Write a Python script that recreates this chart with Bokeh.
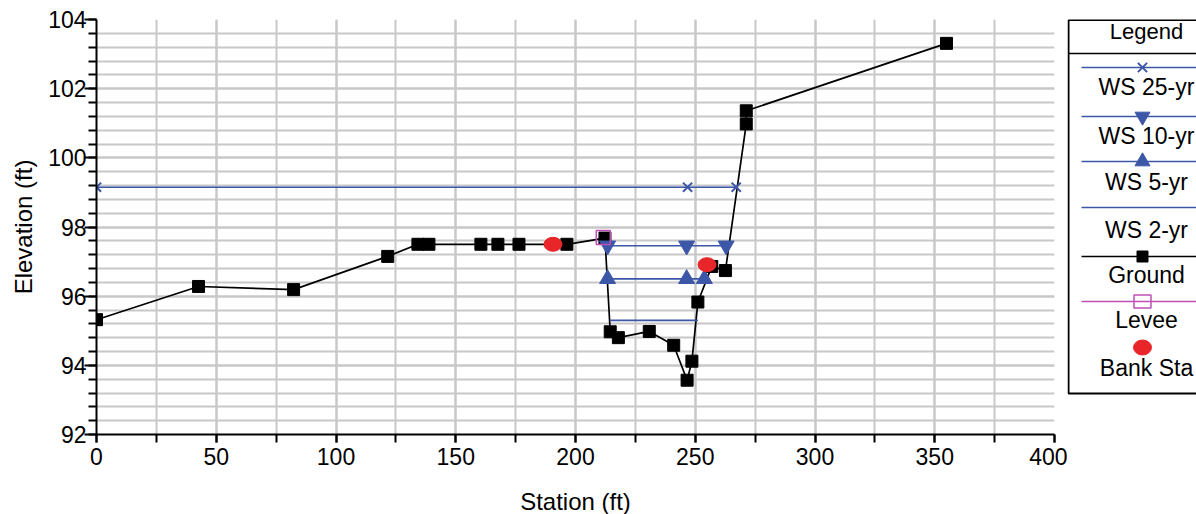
from bokeh.plotting import figure
from bokeh.layouts import row, column
from bokeh.models import Range1d, SingleIntervalTicker
from bokeh.core.properties import value
from bokeh.embed import file_html
from bokeh.resources import INLINE

# ---- data ----
ground_x = [0, 42.6, 82.3, 121.6, 134.2, 138.8, 160.5, 167.6, 176.4, 196.4, 212.3,
            214.5, 217.9, 230.8, 241.0, 246.6, 248.6, 251.1, 256.9, 262.6, 271.3, 271.3, 354.9]
ground_y = [95.32, 96.28, 96.19, 97.15, 97.50, 97.50, 97.50, 97.50, 97.50, 97.50, 97.68,
            94.97, 94.80, 94.98, 94.58, 93.57, 94.12, 95.83, 96.86, 96.74, 100.98, 101.36, 103.31]

ws25_x = [0, 246.8, 267.1]
ws25_y = [99.15, 99.15, 99.15]
ws10_x = [213.4, 246.4, 262.9]
ws10_y = [97.46, 97.46, 97.46]
ws5_x = [213.4, 246.4, 253.8]
ws5_y = [96.50, 96.50, 96.50]
ws2_x = [214.5, 251.1]
ws2_y = [95.30, 95.30]

levee_x = [211.6]
levee_y = [97.70]
bank_x = [190.6, 254.9]
bank_y = [97.50, 96.91]

legend_labels = ["WS 25-yr", "WS 10-yr", "WS 5-yr", "WS 2-yr", "Ground", "Levee", "Bank Sta"]
x_title = "Station (ft)"
y_title = "Elevation (ft)"

BLUE = "#3d57a8"
RED = "#e8262a"
PINK = "#c04fb4"
GRID = "#c8c8c8"
FONT = "Liberation Sans"

TOP, BOTTOM = 19, 50
MAIN_H = 484
TITLE_H = 514 - MAIN_H
X0, X1, Y0, Y1 = 0, 400, 92, 104

# ---- main plot ----
p = figure(width=1067, height=MAIN_H, x_range=Range1d(X0, X1), y_range=Range1d(Y0, Y1),
           output_backend="svg", toolbar_location=None,
           min_border_left=96, min_border_right=13, min_border_top=TOP, min_border_bottom=BOTTOM)
p.outline_line_color = None
p.background_fill_color = "white"

p.xaxis.ticker = SingleIntervalTicker(interval=50, num_minor_ticks=2)
p.yaxis.ticker = SingleIntervalTicker(interval=2, num_minor_ticks=5)
for ax in (p.xaxis[0], p.yaxis[0]):
    ax.axis_line_color = "black"
    ax.axis_line_width = 2
    ax.major_tick_line_color = "black"
    ax.minor_tick_line_color = "black"
    ax.major_tick_line_width = 2
    ax.minor_tick_line_width = 2
    ax.major_tick_in = 0
    ax.minor_tick_in = 0
    ax.major_label_text_font = FONT
    ax.major_label_text_font_size = "23px"
    ax.major_label_text_color = "black"
    ax.axis_label_text_font = FONT
    ax.axis_label_text_font_size = "24px"
    ax.axis_label_text_font_style = "normal"
    ax.axis_label_text_color = "black"
p.yaxis.axis_label = y_title
p.xaxis.major_tick_out = 8
p.xaxis.minor_tick_out = 8
p.xaxis.major_label_standoff = 5
p.yaxis.major_tick_out = 12
p.yaxis.minor_tick_out = 8
p.yaxis.major_label_standoff = -2
p.yaxis.axis_label_standoff = 8

for g in (p.xgrid[0], p.ygrid[0]):
    g.grid_line_color = GRID
    g.grid_line_width = 2
    g.minor_grid_line_color = GRID
    g.minor_grid_line_width = 2

# ground
p.line(ground_x, ground_y, line_color="black", line_width=1.7)
p.scatter(ground_x, ground_y, marker="square", size=12, fill_color="black", line_color="black")

# water surfaces
p.line(ws2_x, ws2_y, line_color=BLUE, line_width=1.6)
p.line(ws5_x, ws5_y, line_color=BLUE, line_width=1.6)
p.scatter(ws5_x, ws5_y, marker="triangle", size=16, fill_color=BLUE, line_color=BLUE)
p.line(ws10_x, ws10_y, line_color=BLUE, line_width=1.6)
p.scatter(ws10_x, ws10_y, marker="inverted_triangle", size=16, fill_color=BLUE, line_color=BLUE)
p.line(ws25_x, ws25_y, line_color=BLUE, line_width=1.6)
p.scatter(ws25_x, ws25_y, marker="x", size=13, line_color=BLUE, line_width=2)

# levee & bank stations
p.scatter(levee_x, levee_y, marker="square", size=14, fill_color=None, line_color=PINK, line_width=1.5)
p.ellipse(bank_x, bank_y, width=18, height=14, width_units="screen", height_units="screen",
          fill_color=RED, line_color=RED)

# ---- legend panel (page-pixel coordinates; frame aligned with main plot frame) ----
lg = figure(width=129, height=MAIN_H, x_range=Range1d(1067, 1196), y_range=Range1d(434, 19),
            output_backend="svg", toolbar_location=None,
            min_border_left=0, min_border_right=0, min_border_top=TOP, min_border_bottom=BOTTOM)
lg.outline_line_color = None
lg.xaxis.visible = False
lg.yaxis.visible = False
lg.grid.visible = False

lg.quad(left=[1068], right=[1300], top=[19.6], bottom=[393], fill_color=None,
        line_color="black", line_width=2)
lg.segment(x0=[1068], y0=[53], x1=[1300], y1=[53], line_color="black", line_width=1.5)
lg.text(x=[1146], y=[31], text=["Legend"], text_align="center", text_baseline="middle",
        text_font=value(FONT), text_font_size="22px", text_color="black")

line_ys = [67, 116, 161, 207, 256, 301, 347]
text_ys = [86, 135, 181, 229, 274, 319, 367]
mx = 1142
lg.segment(x0=[1081] * 6, y0=line_ys[:6], x1=[1300] * 6, y1=line_ys[:6],
           line_color=[BLUE, BLUE, BLUE, BLUE, "black", PINK], line_width=1.6)
lg.scatter([mx], [line_ys[0]], marker="x", size=13, line_color=BLUE, line_width=2)
lg.scatter([mx], [line_ys[1]], marker="inverted_triangle", size=15, fill_color=BLUE, line_color=BLUE)
lg.scatter([mx], [line_ys[2]], marker="triangle", size=15, fill_color=BLUE, line_color=BLUE)
lg.scatter([mx], [line_ys[4]], marker="square", size=11, fill_color="black", line_color="black")
lg.rect([mx], [line_ys[5]], width=17, height=13, width_units="screen", height_units="screen",
        fill_color=None, line_color=PINK, line_width=1.5)
lg.ellipse([mx], [line_ys[6]], width=18, height=15, width_units="screen", height_units="screen",
           fill_color=RED, line_color=RED)
lg.text(x=[1146] * 7, y=text_ys, text=legend_labels, text_align="center", text_baseline="middle",
        text_font=value(FONT), text_font_size="23px", text_color="black")

# ---- x-axis title strip (runs to the bottom edge as in the reference) ----
tf = figure(width=1067, height=TITLE_H, x_range=Range1d(X0, X1), y_range=Range1d(0, TITLE_H),
            output_backend="svg", toolbar_location=None,
            min_border_left=96, min_border_right=13, min_border_top=0, min_border_bottom=0)
tf.outline_line_color = None
tf.xaxis.visible = False
tf.yaxis.visible = False
tf.grid.visible = False
tf.text(x=[(X0 + X1) / 2], y=[TITLE_H / 2], y_offset=[2], text=[x_title], text_align="center",
        text_baseline="middle", text_font=value(FONT), text_font_size="24px", text_color="black")

layout = column(row(p, lg), tf)
open("out.html", "w").write(file_html(layout, INLINE))
